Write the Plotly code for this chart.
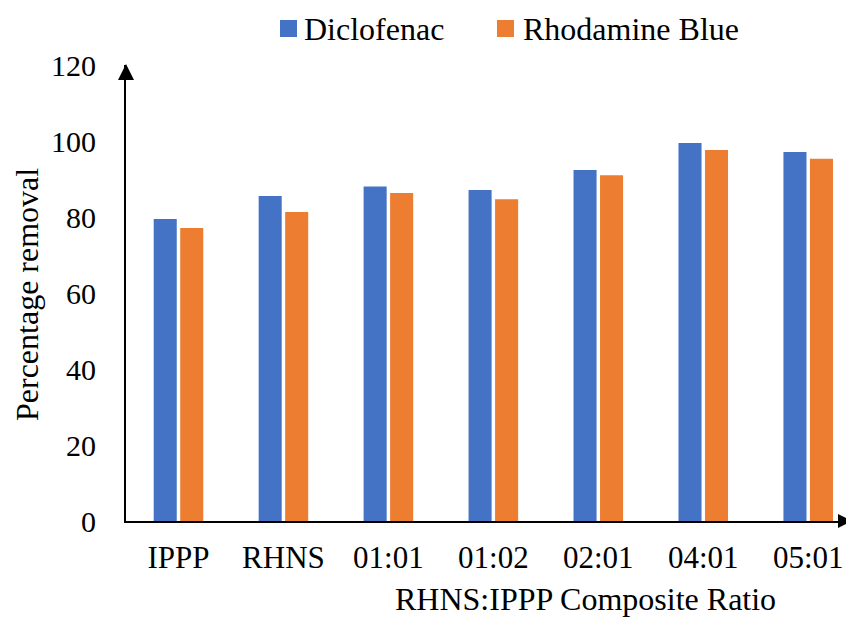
import plotly.graph_objects as go

categories = ["IPPP", "RHNS", "01:01", "01:02", "02:01", "04:01", "05:01"]
diclofenac = [79.5, 85.5, 88.0, 87.1, 92.4, 99.5, 97.1]
rhodamine_blue = [77.1, 81.3, 86.3, 84.7, 91.0, 97.6, 95.3]
y_ticks = [0, 20, 40, 60, 80, 100, 120]
series_names = ["Diclofenac", "Rhodamine Blue"]
series_colors = ["#4472C4", "#ED7D31"]

FONT = "Times New Roman, Liberation Serif, serif"
W, H = 846, 619
L, R, T, B = 126, 0, 65, 98
pw, ph = W - L - R, H - T - B


def px_x(p):
    return (p - L) / pw


def px_y(p):
    return 1 - (p - T) / ph


fig = go.Figure()
for name, vals, col in zip(series_names, [diclofenac, rhodamine_blue], series_colors):
    fig.add_trace(go.Bar(name=name, x=categories, y=vals,
                         marker=dict(color=col, line=dict(width=0))))

shapes = [
    # y-axis arrow head
    dict(type="path", xref="paper", yref="paper",
         path=f"M {px_x(126)} {px_y(64)} L {px_x(118)} {px_y(80)} L {px_x(134)} {px_y(80)} Z",
         fillcolor="black", line=dict(width=0)),
    # x-axis arrow head
    dict(type="path", xref="paper", yref="paper",
         path=f"M {px_x(852)} {px_y(521)} L {px_x(838)} {px_y(514)} L {px_x(838)} {px_y(528)} Z",
         fillcolor="black", line=dict(width=0)),
]

annotations = [
    dict(text="RHNS:IPPP Composite Ratio", xref="paper", yref="paper",
         x=px_x(585), y=px_y(599), xanchor="center", yanchor="middle",
         showarrow=False, font=dict(family=FONT, size=32)),
    dict(text="Percentage removal", xref="paper", yref="paper",
         x=px_x(27), y=px_y(294), xanchor="center", yanchor="middle",
         textangle=-90, showarrow=False, font=dict(family=FONT, size=32)),
]

# legend (manual, positioned like the reference)
legend_sq = [(280, 297), (497, 514)]
legend_txt_x = [302, 521]
for (x0, x1), tx, name, col in zip(legend_sq, legend_txt_x, series_names, series_colors):
    shapes.append(dict(type="rect", xref="paper", yref="paper",
                       x0=px_x(x0), x1=px_x(x1), y0=px_y(37), y1=px_y(20),
                       fillcolor=col, line=dict(width=0)))
    annotations.append(dict(text=name, xref="paper", yref="paper",
                            x=px_x(tx), y=px_y(29), xanchor="left", yanchor="middle",
                            showarrow=False, font=dict(family=FONT, size=32)))

fig.update_layout(
    width=W, height=H,
    margin=dict(l=L, r=R, t=T, b=B, pad=0, autoexpand=False),
    paper_bgcolor="white", plot_bgcolor="white",
    font=dict(family=FONT, size=31, color="black"),
    barmode="group", bargap=0.495, bargroupgap=0.13,
    showlegend=False,
    xaxis=dict(range=[-0.5, 6.36], showline=True, linecolor="black", linewidth=2,
               ticks="", showgrid=False, zeroline=False, fixedrange=True,
               tickfont=dict(family=FONT, size=31), ticklabelstandoff=8),
    yaxis=dict(range=[0, 120], tickvals=y_ticks, showline=True, linecolor="black",
               linewidth=2, ticks="", showgrid=False, zeroline=False,
               tickfont=dict(family=FONT, size=30), ticklabelstandoff=22),
    shapes=shapes,
    annotations=annotations,
)

fig.write_html("out.html")
